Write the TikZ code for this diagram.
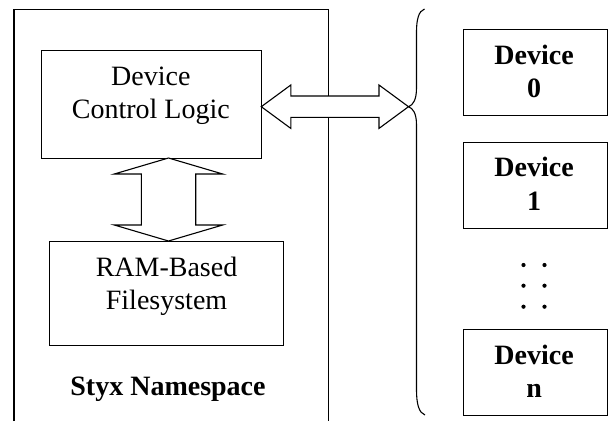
\documentclass[tikz,border=0pt]{standalone}
\usepackage{fontspec}
\setmainfont{Liberation Serif}
\begin{document}
\begin{tikzpicture}[x=1pt,y=-1pt,
  box/.style={draw, line width=1.1pt, rectangle, inner sep=0pt, anchor=north west},
  lbl/.style={font=\fontsize{28}{33.4}\selectfont, anchor=base, inner sep=0pt},
  lblb/.style={font=\fontsize{28}{33.4}\selectfont\bfseries, anchor=base, inner sep=0pt},
  fatarrow/.style={draw, fill=white, line width=1.1pt, line join=miter},
  ln/.style={line width=1.1pt}]
\useasboundingbox (0,0) rectangle (608,421);
% outer namespace frame (open at bottom)
\coordinate (nsbl) at (14,421);
\coordinate (nstl) at (14,9.5);
\coordinate (nstr) at (328.5,9.5);
\coordinate (nsbr) at (328.5,421);
\draw[ln] (nsbl) -- (nstl) -- (nstr) -- (nsbr);
% inner boxes
\node[box, minimum width=220.3pt, minimum height=108pt] (dcl) at (40.7,50) {};
\node[lbl] at ([xshift=-0.6pt,yshift=-35pt]dcl.north) {Device};
\node[lbl] at ([xshift=-0.6pt,yshift=-68.3pt]dcl.north) {Control Logic};
\node[box, minimum width=234pt, minimum height=104pt] (ram) at (49,241) {};
\node[lbl] at ([yshift=-35pt]ram.north) {RAM-Based};
\node[lbl] at ([yshift=-68pt]ram.north) {Filesystem};
\node[lblb] (ns) at (168,395) {Styx Namespace};
% vertical double arrow
\coordinate (vt) at (168.5,158);
\coordinate (vb) at (168.5,241);
\draw[fatarrow] (vt) -- ++(54.2,16) -- ++(-27,0) -- ++(0,51) -- ++(27,0) -- (vb)
  -- ++(-54.2,-16) -- ++(27,0) -- ++(0,-51) -- ++(-27,0) -- cycle;
% brace
\coordinate (bt) at (408.5,106.7);
\coordinate (btop) at (424.5,9);
\coordinate (bbot) at (425,415);
\draw[ln] (btop) .. controls (418.5,11) and (416.5,20) .. (416.5,32) -- (416.5,88)
  .. controls (416.5,100) and (413,105) .. (bt)
  .. controls (413,108.5) and (416.5,113) .. (416.5,125) -- (416.5,390)
  .. controls (416.5,404) and (419,413) .. (bbot);
% horizontal double arrow
\coordinate (ht) at (261.3,106.7);
\draw[fatarrow] (ht) -- ++(29.5,-21.7) -- ++(0,11) -- ++(88.2,0) -- ++(0,-11) -- (bt)
  -- ++(-29.5,21.7) -- ++(0,-11) -- ++(-88.2,0) -- ++(0,11) -- cycle;
% devices
\node[box, minimum width=143.4pt, minimum height=85.7pt] (d0) at (463.3,29.3) {};
\node[lblb] at ([xshift=-1.5pt,yshift=-35pt]d0.north) {Device};
\node[lblb] at ([xshift=-1.5pt,yshift=-68.4pt]d0.north) {0};
\node[box, minimum width=143.4pt, minimum height=86pt] (d1) at (463.3,141.7) {};
\node[lblb] at ([xshift=-1.5pt,yshift=-35pt]d1.north) {Device};
\node[lblb] at ([xshift=-1.5pt,yshift=-68.4pt]d1.north) {1};
\node[box, minimum width=143.4pt, minimum height=86pt] (dn) at (463.3,329) {};
\node[lblb] at ([xshift=-1.5pt,yshift=-35pt]dn.north) {Device};
\node[lblb] at ([xshift=-1.5pt,yshift=-68.4pt]dn.north) {n};
% dots
\foreach \yy in {265,285.7,306.7} {
  \fill (523.5,\yy) circle (2.1);
  \fill (544.5,\yy) circle (2.1);
}
\end{tikzpicture}
\end{document}
